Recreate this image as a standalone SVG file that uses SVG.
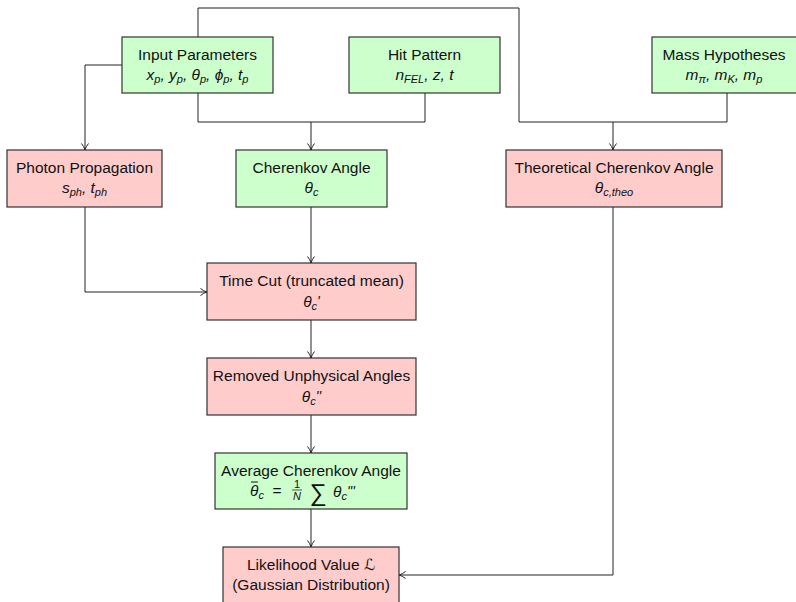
<svg xmlns="http://www.w3.org/2000/svg" width="796" height="602" viewBox="0 0 796 602">
<defs>
<marker id="arr" viewBox="0 0 10 10" refX="9.5" refY="5" markerWidth="10" markerHeight="10" markerUnits="userSpaceOnUse" orient="auto">
<path d="M3,1.5 Q6,4 9.5,5 Q6,6 3,8.5" fill="none" stroke="#222" stroke-width="1"/>
</marker>
<style>
.g{fill:#ccffcc;stroke:#333;stroke-width:1.2}
.r{fill:#ffcccc;stroke:#333;stroke-width:1.2}
text{font-family:"Liberation Sans","DejaVu Sans",sans-serif;font-size:15.5px;fill:#111;text-anchor:middle}
.m{font-style:italic}
.s{font-size:11px}
.p{font-size:14px;font-style:italic}
.c{fill:none;stroke:#222;stroke-width:1}
</style>
</defs>
<rect width="796" height="602" fill="#fff"/>
<g id="connectors">
<path class="c" d="M198 37 V8 H519 V122 H727 V93"/>
<path class="c" d="M613 122 V150" marker-end="url(#arr)"/>
<path class="c" d="M198 93 V122 H425 V93"/>
<path class="c" d="M311 122 V150" marker-end="url(#arr)"/>
<path class="c" d="M122 65 H85 V150" marker-end="url(#arr)"/>
<path class="c" d="M85 207 V292 H207" marker-end="url(#arr)"/>
<path class="c" d="M311 207 V263" marker-end="url(#arr)"/>
<path class="c" d="M311 320 V358" marker-end="url(#arr)"/>
<path class="c" d="M311 415 V453" marker-end="url(#arr)"/>
<path class="c" d="M311 509 V547" marker-end="url(#arr)"/>
<path class="c" d="M613 207 V575 H399" marker-end="url(#arr)"/>
</g>
<g id="input">
<rect class="g" x="122" y="37" width="151" height="56"/>
<text x="197.5" y="60">Input Parameters</text>
<text x="197.5" y="80" class="m">x<tspan class="s" dy="3">p</tspan><tspan dy="-3">, y</tspan><tspan class="s" dy="3">p</tspan><tspan dy="-3">, θ</tspan><tspan class="s" dy="3">p</tspan><tspan dy="-3">, ϕ</tspan><tspan class="s" dy="3">p</tspan><tspan dy="-3">, t</tspan><tspan class="s" dy="3">p</tspan></text>
</g>
<g id="hit">
<rect class="g" x="349" y="37" width="151" height="56"/>
<text x="424.5" y="60">Hit Pattern</text>
<text x="424.5" y="80" class="m">n<tspan class="s" dy="3">FEL</tspan><tspan dy="-3">, z, t</tspan></text>
</g>
<g id="mass">
<rect class="g" x="652" y="37" width="150" height="56"/>
<text x="724" y="60">Mass Hypotheses</text>
<text x="724" y="80" class="m">m<tspan class="s" dy="3">π</tspan><tspan dy="-3">, m</tspan><tspan class="s" dy="3">K</tspan><tspan dy="-3">, m</tspan><tspan class="s" dy="3">p</tspan></text>
</g>
<g id="photon">
<rect class="r" x="7" y="150" width="155" height="57"/>
<text x="84.5" y="173">Photon Propagation</text>
<text x="84.5" y="193" class="m">s<tspan class="s" dy="3">ph</tspan><tspan dy="-3">, t</tspan><tspan class="s" dy="3">ph</tspan></text>
</g>
<g id="cherenkov">
<rect class="g" x="236" y="150" width="151" height="57"/>
<text x="311.5" y="173">Cherenkov Angle</text>
<text x="311.5" y="193" class="m">θ<tspan class="s" dy="3">c</tspan></text>
</g>
<g id="theoretical">
<rect class="r" x="506" y="150" width="216" height="57"/>
<text x="614" y="173">Theoretical Cherenkov Angle</text>
<text x="614" y="193" class="m">θ<tspan class="s" dy="3">c,theo</tspan></text>
</g>
<g id="timecut">
<rect class="r" x="207" y="263" width="209" height="57"/>
<text x="311.5" y="286">Time Cut (truncated mean)</text>
<text x="311.5" y="307" class="m">θ<tspan class="s" dy="3">c</tspan><tspan class="p" dy="-4">'</tspan></text>
</g>
<g id="removed">
<rect class="r" x="207" y="358" width="209" height="57"/>
<text x="311.5" y="381">Removed Unphysical Angles</text>
<text x="311.5" y="402" class="m">θ<tspan class="s" dy="3">c</tspan><tspan class="p" dy="-4">''</tspan></text>
</g>
<g id="average">
<rect class="g" x="215" y="453" width="192" height="56"/>
<text x="311" y="476">Average Cherenkov Angle</text>
<text x="250" y="496" class="m" style="text-anchor:start">θ<tspan class="s" dy="3">c</tspan></text>
<line x1="251" y1="482" x2="258" y2="482" stroke="#111" stroke-width="1"/>
<text x="277" y="496">=</text>
<text x="297" y="488" class="s">1</text>
<line x1="292" y1="490" x2="302" y2="490" stroke="#111" stroke-width="0.7"/>
<text x="297" y="500" class="s m">N</text>
<text x="318" y="501" style="font-size:24px">∑</text>
<text x="333" y="497" class="m" style="text-anchor:start">θ<tspan class="s" dy="3">c</tspan><tspan class="p" dy="-4">'''</tspan></text>
</g>
<g id="likelihood">
<rect class="r" x="223" y="547" width="176" height="57"/>
<text x="311" y="570">Likelihood Value <tspan style="font-family:'DejaVu Sans',sans-serif">ℒ</tspan></text>
<text x="311" y="590">(Gaussian Distribution)</text>
</g>
</svg>
